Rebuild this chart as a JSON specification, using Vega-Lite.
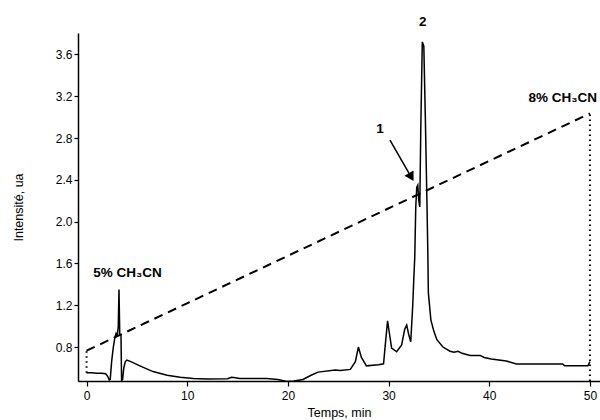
{
  "$schema": "https://vega.github.io/schema/vega-lite/v6.json",
  "autosize": {"type": "none"},
  "padding": {"left": 78, "top": 33, "right": 0, "bottom": 39},
  "width": 522,
  "height": 348,
  "config": {
    "view": {"stroke": null},
    "font": "Liberation Sans",
    "axis": {
      "grid": false,
      "domainColor": "black",
      "domainWidth": 1.5,
      "tickColor": "black",
      "tickWidth": 1.2,
      "tickSize": 5,
      "labelFont": "Liberation Sans",
      "labelFontSize": 12,
      "labelColor": "black",
      "titleFont": "Liberation Sans",
      "titleFontSize": 12.5,
      "titleFontWeight": "normal",
      "titleColor": "black"
    }
  },
  "datasets": {
    "chrom": [
      {"t": 0.0, "i": 0.555}, {"t": 0.5, "i": 0.555}, {"t": 1.0, "i": 0.55}, {"t": 1.5, "i": 0.55},
      {"t": 1.9, "i": 0.545}, {"t": 2.1, "i": 0.52}, {"t": 2.25, "i": 0.485}, {"t": 2.35, "i": 0.49},
      {"t": 2.5, "i": 0.67}, {"t": 2.66, "i": 0.8}, {"t": 2.83, "i": 0.9}, {"t": 2.93, "i": 0.93},
      {"t": 3.05, "i": 0.9}, {"t": 3.15, "i": 1.0}, {"t": 3.22, "i": 1.35}, {"t": 3.3, "i": 0.92},
      {"t": 3.42, "i": 0.91}, {"t": 3.48, "i": 0.478}, {"t": 3.58, "i": 0.49}, {"t": 3.7, "i": 0.6},
      {"t": 3.85, "i": 0.66}, {"t": 4.0, "i": 0.675}, {"t": 4.4, "i": 0.66}, {"t": 5.3, "i": 0.62},
      {"t": 6.6, "i": 0.565}, {"t": 8.0, "i": 0.53}, {"t": 9.3, "i": 0.51}, {"t": 10.6, "i": 0.5},
      {"t": 12.0, "i": 0.495}, {"t": 14.0, "i": 0.497}, {"t": 14.4, "i": 0.51}, {"t": 14.8, "i": 0.505},
      {"t": 15.2, "i": 0.5}, {"t": 17.9, "i": 0.5}, {"t": 19.0, "i": 0.49}, {"t": 19.9, "i": 0.47},
      {"t": 20.6, "i": 0.475}, {"t": 21.5, "i": 0.49}, {"t": 22.3, "i": 0.53}, {"t": 23.0, "i": 0.56},
      {"t": 24.7, "i": 0.58}, {"t": 25.2, "i": 0.575}, {"t": 26.2, "i": 0.586}, {"t": 26.7, "i": 0.66},
      {"t": 27.0, "i": 0.8}, {"t": 27.3, "i": 0.7}, {"t": 27.8, "i": 0.62}, {"t": 29.0, "i": 0.63},
      {"t": 29.5, "i": 0.64}, {"t": 29.7, "i": 0.85}, {"t": 29.9, "i": 1.05}, {"t": 30.1, "i": 0.92},
      {"t": 30.3, "i": 0.79}, {"t": 30.8, "i": 0.755}, {"t": 31.3, "i": 0.82}, {"t": 31.6, "i": 0.97},
      {"t": 31.8, "i": 1.01}, {"t": 32.0, "i": 0.92}, {"t": 32.2, "i": 0.85}, {"t": 32.4, "i": 1.2},
      {"t": 32.5, "i": 1.44}, {"t": 32.6, "i": 1.66}, {"t": 32.7, "i": 2.14}, {"t": 32.8, "i": 2.33},
      {"t": 32.9, "i": 2.35}, {"t": 33.0, "i": 2.2}, {"t": 33.1, "i": 2.14}, {"t": 33.2, "i": 2.9},
      {"t": 33.35, "i": 3.72}, {"t": 33.5, "i": 3.68}, {"t": 33.65, "i": 3.0}, {"t": 33.8, "i": 2.24},
      {"t": 33.9, "i": 1.7}, {"t": 33.95, "i": 1.32}, {"t": 34.2, "i": 1.06}, {"t": 34.5, "i": 0.95},
      {"t": 34.8, "i": 0.87}, {"t": 35.4, "i": 0.8}, {"t": 36.1, "i": 0.76}, {"t": 36.5, "i": 0.75},
      {"t": 36.9, "i": 0.76}, {"t": 37.3, "i": 0.74}, {"t": 38.1, "i": 0.72}, {"t": 39.1, "i": 0.72},
      {"t": 39.5, "i": 0.7}, {"t": 40.2, "i": 0.685}, {"t": 41.7, "i": 0.666}, {"t": 42.7, "i": 0.637},
      {"t": 47.3, "i": 0.637}, {"t": 47.5, "i": 0.62}, {"t": 49.8, "i": 0.62}, {"t": 50.0, "i": 0.66}
    ],
    "gradient": [
      {"t": 0, "i": 0.765},
      {"t": 50, "i": 3.035}
    ],
    "dotted": [
      {"t": 0, "i": 0.555, "i2": 0.765},
      {"t": 50, "i": 0.475, "i2": 3.035}
    ],
    "arrow": [
      {"t": 30.14, "i": 2.78, "t2": 32.05, "i2": 2.46}
    ],
    "head": [
      {"t": 32.18, "i": 2.44}
    ],
    "labels": [
      {"t": 4.07, "i": 1.507, "label": "5% CH₃CN"},
      {"t": 47.3, "i": 3.18, "label": "8% CH₃CN"},
      {"t": 29.15, "i": 2.89, "label": "1"},
      {"t": 33.4, "i": 3.915, "label": "2"}
    ]
  },
  "layer": [
    {
      "data": {"name": "chrom"},
      "mark": {"type": "line", "color": "black", "strokeWidth": 1.5, "clip": true},
      "encoding": {
        "x": {"field": "t", "type": "quantitative", "title": "Temps, min",
              "scale": {"domain": [-0.85, 51], "nice": false, "zero": false},
              "axis": {"values": [0, 10, 20, 30, 40, 50], "labelPadding": 4, "titlePadding": 5}},
        "y": {"field": "i", "type": "quantitative", "title": "Intensité, ua",
              "scale": {"domain": [0.475, 3.805], "nice": false, "zero": false},
              "axis": {"values": [0.8, 1.2, 1.6, 2.0, 2.4, 2.8, 3.2, 3.6], "format": ".1f", "tickSize": 4, "labelPadding": 2, "titlePadding": 30}}
      }
    },
    {
      "data": {"name": "gradient"},
      "mark": {"type": "line", "color": "black", "strokeWidth": 2, "strokeDash": [9, 6]},
      "encoding": {
        "x": {"field": "t", "type": "quantitative", "title": "Temps, min"},
        "y": {"field": "i", "type": "quantitative", "title": "Intensité, ua"}
      }
    },
    {
      "data": {"name": "dotted"},
      "mark": {"type": "rule", "color": "black", "strokeWidth": 2, "strokeDash": [1.5, 3.5]},
      "encoding": {
        "x": {"field": "t", "type": "quantitative", "title": "Temps, min"},
        "y": {"field": "i", "type": "quantitative", "title": "Intensité, ua"},
        "y2": {"field": "i2"}
      }
    },
    {
      "data": {"name": "arrow"},
      "mark": {"type": "rule", "color": "black", "strokeWidth": 1.5},
      "encoding": {
        "x": {"field": "t", "type": "quantitative", "title": "Temps, min"},
        "y": {"field": "i", "type": "quantitative", "title": "Intensité, ua"},
        "x2": {"field": "t2"},
        "y2": {"field": "i2"}
      }
    },
    {
      "data": {"name": "head"},
      "mark": {"type": "point", "shape": "triangle", "angle": 150, "size": 110, "filled": true, "color": "black", "opacity": 1},
      "encoding": {
        "x": {"field": "t", "type": "quantitative", "title": "Temps, min"},
        "y": {"field": "i", "type": "quantitative", "title": "Intensité, ua"}
      }
    },
    {
      "data": {"name": "labels"},
      "mark": {"type": "text", "fontWeight": "bold", "fontSize": 13.5, "color": "black", "font": "Liberation Sans", "baseline": "middle", "align": "center"},
      "encoding": {
        "x": {"field": "t", "type": "quantitative", "title": "Temps, min"},
        "y": {"field": "i", "type": "quantitative", "title": "Intensité, ua"},
        "text": {"field": "label"}
      }
    }
  ]
}
